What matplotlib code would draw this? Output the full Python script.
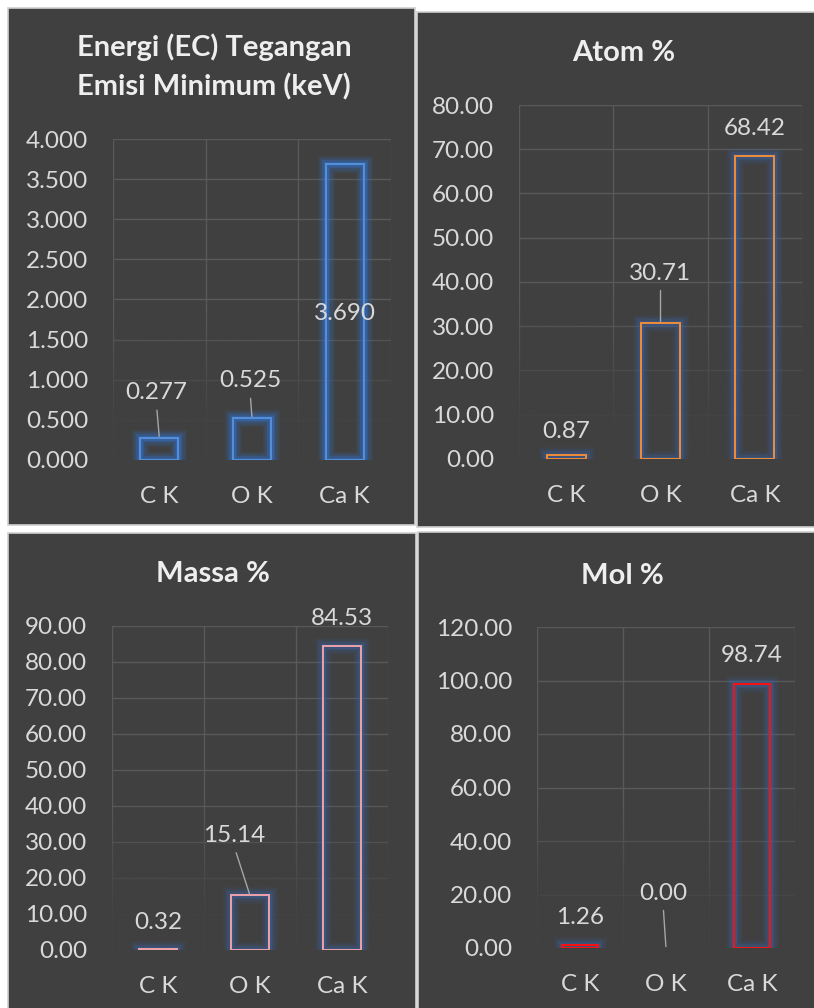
import numpy as np
import matplotlib
matplotlib.use("Agg")
import matplotlib.pyplot as plt
import matplotlib.patheffects as pe
from matplotlib.patches import Rectangle

# Data per panel
categories = ["C K", "O K", "Ca K"]

energi_values = [0.277, 0.525, 3.690]
atom_values = [0.87, 30.71, 68.42]
massa_values = [0.32, 15.14, 84.53]
mol_values = [1.26, 0.00, 98.74]

energi_ticks = [0.0, 0.5, 1.0, 1.5, 2.0, 2.5, 3.0, 3.5, 4.0]
atom_ticks = [0, 10, 20, 30, 40, 50, 60, 70, 80]
massa_ticks = [0, 10, 20, 30, 40, 50, 60, 70, 80, 90]
mol_ticks = [0, 20, 40, 60, 80, 100, 120]

titles = ["Energi (EC) Tegangan\nEmisi Minimum (keV)", "Atom %", "Massa %", "Mol %"]

W, H = 814, 1008
BG = "#404040"
TXT = "#d9d9d9"
GRID = "#595959"
FS = 17.5

plt.rcParams["font.family"] = ["Lato", "DejaVu Sans"]

fig = plt.figure(figsize=(W / 100, H / 100), dpi=100)
fig.patch.set_facecolor("white")


def fx(px):
    return px / W


def fy(py):
    return 1 - py / H


# panel box (x0, y0, x1, y1) px, axes box px, title centre px
panels = [
    dict(values=energi_values, ticks=energi_ticks, fmt="{:.3f}", title=titles[0],
         box=(8, 8, 415, 525), ax=(113, 139, 391, 460), tpos=(214, 67),
         edge="#5590d8", glow="#2f7be6",
         offs=[(-3, 45, True), (-2, 37, True), (0, -150, False)]),
    dict(values=atom_values, ticks=atom_ticks, fmt="{:.2f}", title=titles[1],
         box=(417, 12, 830, 527), ax=(519, 105, 802, 459), tpos=(624, 53),
         edge="#f08c38", glow="#3a64a8",
         offs=[(0, 24, False), (0, 50, True), (0, 28, False)]),
    dict(values=massa_values, ticks=massa_ticks, fmt="{:.2f}", title=titles[2],
         box=(8, 533, 416, 1020), ax=(112, 626, 388, 950), tpos=(213, 574),
         edge="#eda2aa", glow="#3a64a8",
         offs=[(0, 26, False), (-16, 60, True), (0, 27, False)]),
    dict(values=mol_values, ticks=mol_ticks, fmt="{:.2f}", title=titles[3],
         box=(418, 532, 830, 1020), ax=(537, 627, 795, 948), tpos=(622, 576),
         edge="#ff1010", glow="#3a64a8",
         offs=[(0, 27, False), (-3, 55, True), (0, 28, False)]),
]

x = np.arange(len(categories))

for p in panels:
    bx0, by0, bx1, by1 = p["box"]
    fig.patches.append(Rectangle((fx(bx0), fy(by1)), fx(bx1 - bx0), (by1 - by0) / H,
                                 transform=fig.transFigure, facecolor=BG,
                                 edgecolor="#d0d0d0", lw=1.2, zorder=-1))
    fig.text(fx(p["tpos"][0]), fy(p["tpos"][1]), p["title"], ha="center", va="center",
             color="#eeeeee", fontsize=21, fontweight="bold", linespacing=1.55)

    ax0, ay0, ax1, ay1 = p["ax"]
    ax = fig.add_axes([fx(ax0), fy(ay1), fx(ax1 - ax0), (ay1 - ay0) / H])
    ax.set_facecolor("none")
    for s in ax.spines.values():
        s.set_visible(False)

    ax.set_yticks(p["ticks"])
    ax.set_yticklabels([p["fmt"].format(t) for t in p["ticks"]])
    ax.set_xticks(x)
    ax.set_xticklabels(categories)
    ax.set_xticks([-0.5, 0.5, 1.5, 2.5], minor=True)
    ax.tick_params(axis="both", which="both", length=0, colors=TXT, labelsize=FS)
    ax.tick_params(axis="y", pad=18)
    ax.tick_params(axis="x", pad=19)
    ax.set_axisbelow(True)
    ax.grid(axis="y", which="major", color=GRID, lw=1)
    ax.grid(axis="x", which="minor", color=GRID, lw=1)

    # soft fade of gridlines toward the bottom
    f = np.linspace(1, 0, 200)
    a = np.clip((0.45 - f) / 0.35, 0, 1) * 0.92
    rgba = np.zeros((200, 1, 4))
    rgba[..., :3] = matplotlib.colors.to_rgb(BG)
    rgba[:, 0, 3] = a
    ax.imshow(rgba, extent=[0, 1, 0, 1], transform=ax.transAxes, aspect="auto",
              zorder=1, interpolation="bilinear")
    ax.set_xlim(-0.5, 2.5)
    ax.set_ylim(p["ticks"][0], p["ticks"][-1])

    glow = [pe.Stroke(linewidth=12, foreground=p["glow"], alpha=0.10),
            pe.Stroke(linewidth=9, foreground=p["glow"], alpha=0.15),
            pe.Stroke(linewidth=6, foreground=p["glow"], alpha=0.22),
            pe.Stroke(linewidth=3.5, foreground=p["glow"], alpha=0.3),
            pe.Normal()]
    bars = ax.bar(x, p["values"], width=0.41, facecolor="none",
                  edgecolor=p["edge"], lw=1.4, zorder=3)
    for b, v in zip(bars, p["values"]):
        b.set_path_effects(glow)
        if v == 0:
            b.set_visible(False)

    for i, v in enumerate(p["values"]):
        dx, dy, lead = p["offs"][i]
        kw = {}
        if lead:
            kw["arrowprops"] = dict(arrowstyle="-", color="#a6a6a6", lw=1,
                                    shrinkA=3, shrinkB=1, relpos=(0.5, 0))
        ax.annotate(p["fmt"].format(v), xy=(i, v), xytext=(dx, dy),
                    textcoords="offset pixels", ha="center", va="center",
                    color=TXT, fontsize=FS, zorder=5, annotation_clip=False, **kw)

fig.savefig("out.png", dpi=100, facecolor=fig.get_facecolor())
